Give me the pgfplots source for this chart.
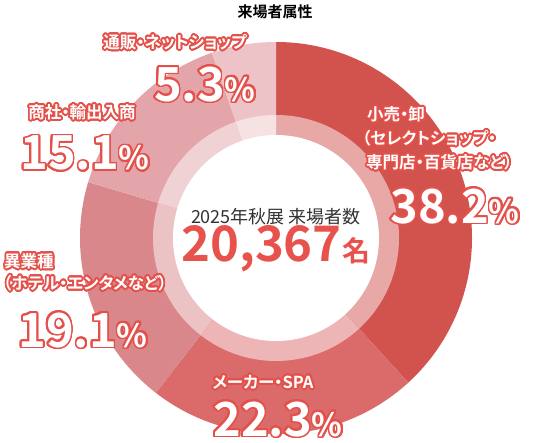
\documentclass[border=0pt]{standalone}
\usepackage{pgfplots}
\pgfplotsset{compat=1.18}
\usepackage{pgfplotstable}
\usepackage{fontspec}
\usepackage[copies]{contour}
\setmainfont{Noto Sans CJK JP}[BoldFont={Noto Sans CJK JP Bold}]
\newfontfamily\jpp{Noto Sans CJK JP Bold}[RawFeature=+palt]

\definecolor{seg0}{HTML}{D2524E}
\definecolor{seg1}{HTML}{DB6B6B}
\definecolor{seg2}{HTML}{D9878A}
\definecolor{seg3}{HTML}{E4A5AA}
\definecolor{seg4}{HTML}{EDC3C8}
\definecolor{seg0i}{HTML}{E8A8A6}
\definecolor{seg1i}{HTML}{EDB5B5}
\definecolor{seg2i}{HTML}{ECC3C5}
\definecolor{seg3i}{HTML}{F1D2D4}
\definecolor{seg4i}{HTML}{F6E1E3}
\definecolor{lbl}{HTML}{E4504A}
\definecolor{num}{HTML}{E8524C}

\contourlength{1.7pt}
\contournumber{32}

% shares in %, clockwise from 12 o'clock
\pgfplotstableread{
share
38.2
22.3
19.1
15.1
5.3
}\shares

\newcommand{\lab}[1]{{\jpp\fontsize{16.5bp}{18bp}\selectfont\color{white}\contour{lbl}{#1}}}
\newcommand{\pct}[2]{{\jpp\color{white}\contour{lbl}{\fontsize{47bp}{47bp}\selectfont #1\fontsize{32bp}{32bp}\selectfont #2}}}

\begin{document}
\begin{tikzpicture}
\begin{axis}[
  width=550bp, height=442bp, scale only axis,
  xmin=0, xmax=550, ymin=0, ymax=442,
  hide axis, clip=false]
\pgfplotsextra{
  \gdef\angcur{90}
  \pgfplotstableforeachcolumnelement{share}\of\shares\as\v{%
    \pgfmathsetmacro\angnext{\angcur-3.6*\v}%
    \edef\cc{seg\pgfplotstablerow}%
    \fill[\cc] (axis cs:276,204) -- ++(\angcur:196bp)
      arc[start angle=\angcur, end angle=\angnext, radius=196bp] -- cycle;
    \fill[\cc i] (axis cs:276,204) -- ++(\angcur:123bp)
      arc[start angle=\angcur, end angle=\angnext, radius=123bp] -- cycle;
    \xdef\angcur{\angnext}%
  }
  \fill[white] (axis cs:276,204) circle[radius=103bp];
}
\node[font=\bfseries\fontsize{15bp}{18bp}\selectfont] at (axis cs:275,430) {来場者属性};

\node at (axis cs:276,225) {\fontsize{18bp}{20bp}\selectfont\color[HTML]{333333}2025年秋展 来場者数};
\node at (axis cs:276,193) {\bfseries\color{num}\fontsize{49bp}{49bp}\selectfont 20,367\kern1bp\fontsize{28bp}{28bp}\selectfont 名};

\node at (axis cs:175,399) {\lab{通販・ネットショップ}};
\node at (axis cs:205,357) {\pct{5.3}{\%}};

\node at (axis cs:82,329) {\lab{商社・輸出入商}};
\node at (axis cs:85,288) {\pct{15.1}{\%}};

\node[anchor=west,inner sep=0pt] at (axis cs:367,327) {\lab{小売・卸}};
\node[anchor=west,inner sep=0pt] at (axis cs:362,303) {\lab{（セレクトショップ・}};
\node[anchor=west,inner sep=0pt] at (axis cs:366,279) {\lab{専門店・百貨店など）}};
\node at (axis cs:455,235) {\pct{38.2}{\%}};

\node[anchor=west,inner sep=0pt] at (axis cs:4,180) {\lab{異業種}};
\node[anchor=west,inner sep=0pt] at (axis cs:3,158) {\lab{（ホテル・エンタメなど）}};
\node at (axis cs:83,111) {\pct{19.1}{\%}};

\node at (axis cs:263,59) {\lab{メーカー・SPA}};
\node at (axis cs:278,22) {\pct{22.3}{\%}};
\end{axis}
\pgfresetboundingbox
\path[use as bounding box] (current axis.south west) rectangle (current axis.north east);
\end{tikzpicture}
\end{document}
